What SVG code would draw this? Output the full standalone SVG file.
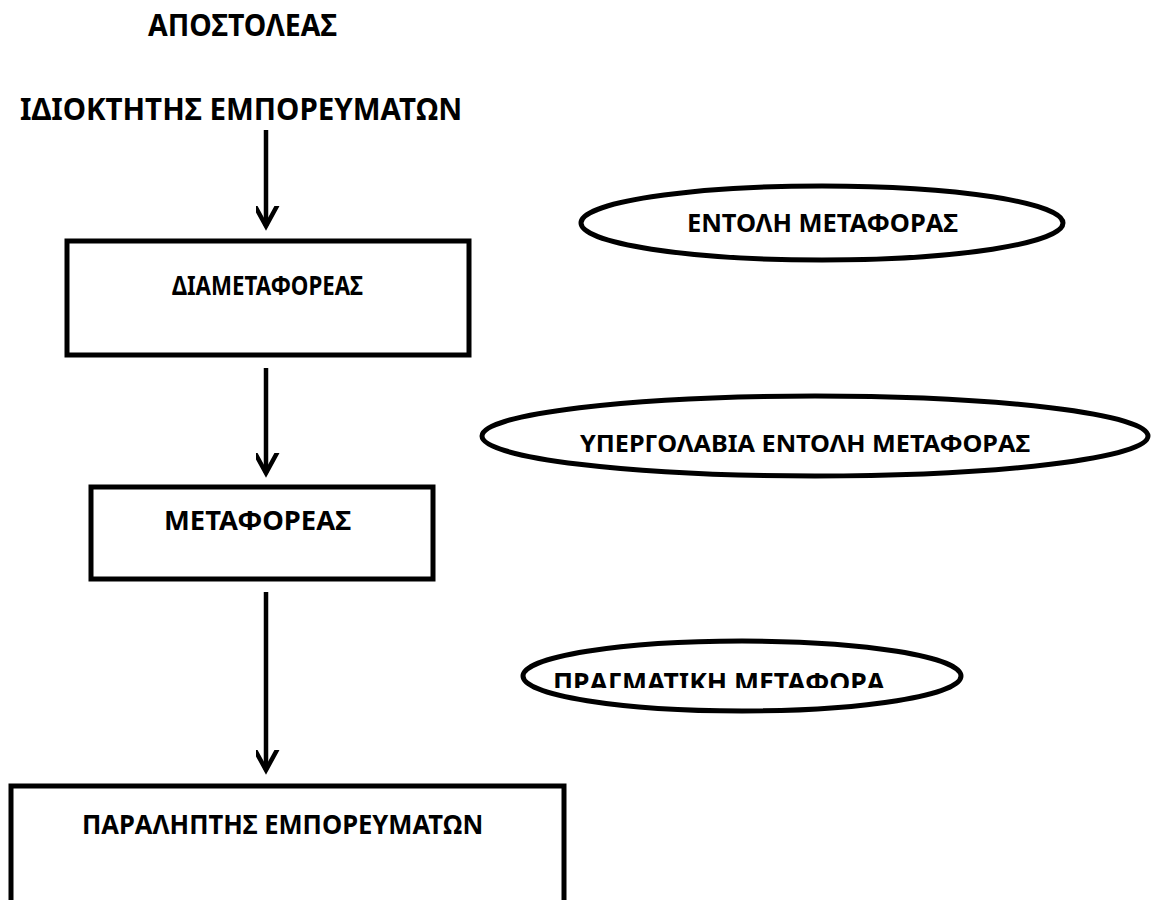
<svg xmlns="http://www.w3.org/2000/svg" width="1153" height="900" viewBox="0 0 1153 900">
<style>
  .t { font-family: "Noto Sans", "Open Sans", "DejaVu Sans", sans-serif; font-weight: 700; fill: #000; }
  .box { fill: #fff; stroke: #000; stroke-width: 5; }
  .ell { fill: #fff; stroke: #000; stroke-width: 5; }
  .conn { stroke: #000; stroke-width: 4.5; fill: none; }
</style>
<defs>
  <marker id="chev" markerUnits="userSpaceOnUse" markerWidth="40" markerHeight="40" viewBox="-20 -30 40 40" refX="0" refY="0" orient="auto">
    <path d="M-20,-11 L0,0 L-20,11" fill="none" stroke="#000" stroke-width="4.5" stroke-linecap="round" stroke-linejoin="miter"/>
  </marker>
  <clipPath id="clip3"><rect x="500" y="600" width="500" height="88"/></clipPath>
</defs>
<rect width="1153" height="900" fill="#fff"/>

<g id="sender">
  <text class="t" x="148" y="36" font-size="30" textLength="189" lengthAdjust="spacingAndGlyphs">ΑΠΟΣΤΟΛΕΑΣ</text>
  <text class="t" x="20" y="120" font-size="30" textLength="442" lengthAdjust="spacingAndGlyphs">ΙΔΙΟΚΤΗΤΗΣ ΕΜΠΟΡΕΥΜΑΤΩΝ</text>
</g>

<g id="connectors">
  <line class="conn" x1="266" y1="130" x2="266" y2="226" marker-end="url(#chev)"/>
  <line class="conn" x1="266" y1="368" x2="266" y2="473" marker-end="url(#chev)"/>
  <line class="conn" x1="266" y1="592" x2="266" y2="770" marker-end="url(#chev)"/>
</g>

<g id="forwarder">
  <rect class="box" x="67" y="241" width="402" height="114"/>
  <text class="t" x="172" y="295" font-size="26" textLength="191" lengthAdjust="spacingAndGlyphs">ΔΙΑΜΕΤΑΦΟΡΕΑΣ</text>
</g>

<g id="carrier">
  <rect class="box" x="91" y="487" width="342" height="92"/>
  <text class="t" x="164" y="530" font-size="26" textLength="187" lengthAdjust="spacingAndGlyphs">ΜΕΤΑΦΟΡΕΑΣ</text>
</g>

<g id="consignee">
  <rect class="box" x="11" y="786" width="553" height="130"/>
  <text class="t" x="82" y="834" font-size="26" textLength="401" lengthAdjust="spacingAndGlyphs">ΠΑΡΑΛΗΠΤΗΣ ΕΜΠΟΡΕΥΜΑΤΩΝ</text>
</g>

<g id="order">
  <ellipse class="ell" cx="822" cy="223" rx="241" ry="37"/>
  <text class="t" x="687" y="232" font-size="25" textLength="271" lengthAdjust="spacingAndGlyphs">ΕΝΤΟΛΗ ΜΕΤΑΦΟΡΑΣ</text>
</g>

<g id="suborder">
  <ellipse class="ell" cx="815" cy="436" rx="333" ry="40"/>
  <text class="t" x="580" y="452" font-size="23" textLength="450" lengthAdjust="spacingAndGlyphs">ΥΠΕΡΓΟΛΑΒΙΑ ΕΝΤΟΛΗ ΜΕΤΑΦΟΡΑΣ</text>
</g>

<g id="actual">
  <ellipse class="ell" cx="742" cy="676" rx="219" ry="35"/>
  <text class="t" x="553" y="692" font-size="26" textLength="332" lengthAdjust="spacingAndGlyphs" clip-path="url(#clip3)">ΠΡΑΓΜΑΤΙΚΗ ΜΕΤΑΦΟΡΑ</text>
</g>
</svg>
